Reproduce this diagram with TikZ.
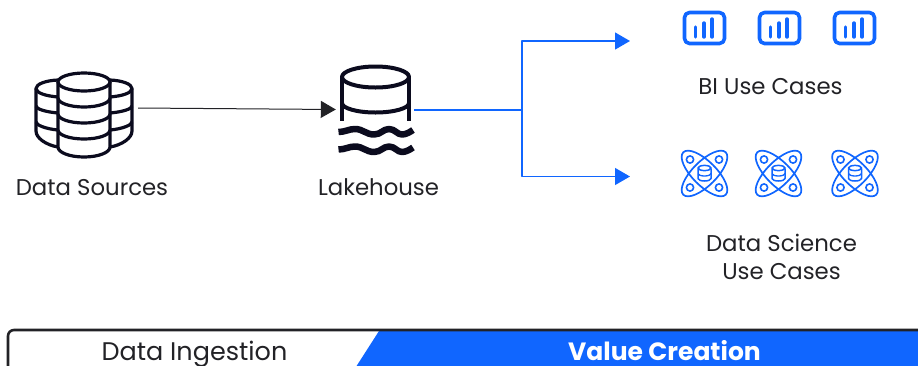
\documentclass[tikz,border=0pt]{standalone}
\usepackage{fontspec}
\setmainfont{Poppins}
\usetikzlibrary{arrows.meta}
\definecolor{bl}{HTML}{1066FF}
\definecolor{ink}{HTML}{222226}
\definecolor{navy}{HTML}{0B0B1E}
\tikzset{
 lab/.style={font=\fontsize{22.8}{28}\selectfont,text=ink,inner sep=0pt,align=center},
 barlab/.style={font=\fontsize{25.5}{30}\selectfont,text=ink,inner sep=0pt,anchor=base},
 icon/.style={inner sep=0pt,minimum width=#1,minimum height=10pt},
 blk/.style={-{Triangle[length=15pt,width=17pt]},draw=ink,line width=1pt},
 blu/.style={draw=bl,line width=1.3pt},
 blutip/.style={-{Triangle[length=15pt,width=17pt]},blu},
 bi/.pic={
  \draw[bl,line width=3.6pt,rounded corners=5pt] (-20,-15.5) rectangle (20,15.5);
  \draw[bl,line width=3.4pt,line cap=round] (-8.8,-1) -- (-8.8,9) (-0.5,-5) -- (-0.5,9) (7.5,-9) -- (7.5,9);
 },
 atom/.pic={
  \draw[bl,line width=1.7pt,rotate=45] (0,0) ellipse (30 and 12);
  \draw[bl,line width=1.7pt,rotate=-45] (0,0) ellipse (30 and 12);
  \foreach \a/\b in {-14.5/-14,14.5/-14,-14.5/14,14.5/14}
   \draw[bl,line width=1.6pt,fill=white] (\a,\b) circle (3.6);
  \draw[bl,line width=1.5pt,fill=white] (-6.5,-5) -- (-6.5,5) arc[start angle=180,end angle=360,x radius=6.5,y radius=-2.5] -- (6.5,-5);
  \draw[bl,line width=1.5pt,fill=white] (0,-5.5) ellipse (6.5 and 2.6);
  \draw[bl,line width=1.3pt] (-6.5,0) arc[start angle=180,end angle=360,x radius=6.5,y radius=-2.5];
 }
}
\begin{document}
\begin{tikzpicture}[x=1pt,y=-1pt,line join=round]
\useasboundingbox (0,0) rectangle (918,365);
% bottom bar
\fill[bl] (379,331) -- (354,370) -- (930,370) -- (930,331) -- cycle;
\draw[ink,line width=2.6pt,rounded corners=6pt] (8,375) -- (8,330) -- (930,330);
\node[barlab] (ingest) at (194.5,360) {Data Ingestion};
\node[barlab,font=\fontsize{25}{30}\selectfont\bfseries,text=white] (value) at (664.5,360) {Value Creation};
% data sources icon
\begin{scope}[navy,line width=3.2pt]
 \foreach \s/\cx in {1/58,-1/110}{
  \draw[fill=white] (\cx,80) .. controls (\cx-\s*12,80.5) and (\cx-\s*22,84) .. (\cx-\s*22,88.5)
    -- (\cx-\s*22,131) .. controls (\cx-\s*22,138) and (\cx-\s*12,145) .. (\cx,147);
  \draw (\cx-\s*22,88.5) .. controls (\cx-\s*22,93) and (\cx-\s*12,96) .. (\cx,97);
  \draw (\cx-\s*22,106) .. controls (\cx-\s*22,109) and (\cx-\s*12,112) .. (\cx,113);
  \draw (\cx-\s*22,122) .. controls (\cx-\s*22,125) and (\cx-\s*12,129) .. (\cx,130);
 }
 \draw[fill=white] (58,82) -- (58,147) arc[start angle=180,end angle=360,x radius=26,y radius=-10] -- (110,82);
 \draw (84,82) ellipse (26 and 9);
 \draw (58,98) arc[start angle=180,end angle=360,x radius=26,y radius=-9];
 \draw (58,114) arc[start angle=180,end angle=360,x radius=26,y radius=-9];
 \draw (58,130) arc[start angle=180,end angle=360,x radius=26,y radius=-9];
\end{scope}
\node[icon=104pt,minimum height=90pt] (src) at (86,108) {};
\node[lab] (srclab) at (92,187.5) {Data Sources};
% lakehouse icon
\begin{scope}[navy,line width=4pt]
 \draw (375.5,77) ellipse (33.5 and 10.5);
 \draw (342,77) -- (342,121) (409,77) -- (409,121);
 \draw (342,103) arc[start angle=180,end angle=360,x radius=33.5,y radius=-9.5];
 \foreach \d in {0,17.5}{
  \draw[line width=6.5pt,yshift=\d*-1pt] (338.5,132) .. controls (345,132) and (349,129) .. (355,129)
    .. controls (363,129) and (366,134.5) .. (374,134.5)
    .. controls (381,134.5) and (383,129) .. (389,129)
    .. controls (395,129) and (397,134.5) .. (402,134.5)
    .. controls (406,134.5) and (410,132) .. (413,130);
 }
\end{scope}
\node[icon=78pt,minimum height=90pt] (lake) at (375,108) {};
\node[lab] (lakelab) at (378.5,187.5) {Lakehouse};
% BI
\path (704.5,28) pic {bi} (779.5,28) pic {bi} (854.5,28) pic {bi};
\coordinate (bitarget) at (630,41);
\node[lab] (bilab) at (770.5,86.5) {BI Use Cases};
% DS
\path (704.5,173.5) pic {atom} (778.5,173.5) pic {atom} (855,173.5) pic {atom};
\coordinate (dstarget) at (630,176.5);
\node[lab] (dslab) at (781.5,257) {Data Science\\[-0.5pt]Use Cases};
% connectors
\coordinate (junction) at (522,110);
\draw[blk] (src.east) -- (lake.west |- 0,109.5);
\draw[blu] (lake.east |- junction) -- (junction);
\draw[blutip] (junction) |- (bitarget);
\draw[blutip] (junction) |- (dstarget);
\end{tikzpicture}
\end{document}
